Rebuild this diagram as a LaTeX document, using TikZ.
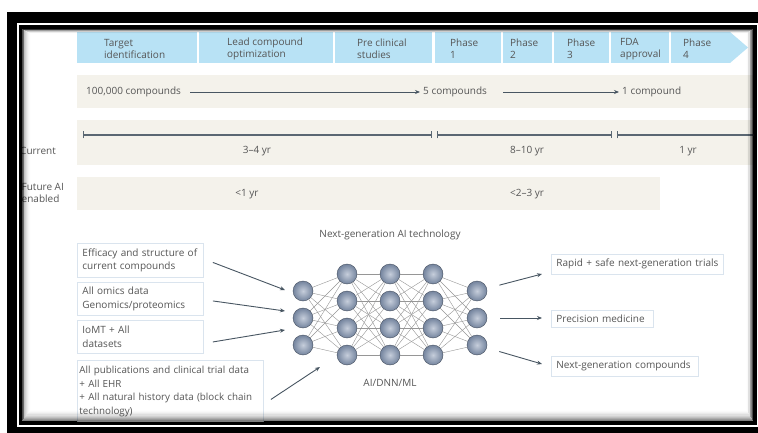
\documentclass[tikz,border=0pt]{standalone}
\usepackage{fontspec}
\setmainfont{Open Sans}
\usetikzlibrary{arrows.meta,calc}
\definecolor{banner}{RGB}{184,226,245}
\definecolor{band}{RGB}{244,242,235}
\definecolor{txt}{RGB}{85,85,85}
\definecolor{ink}{RGB}{72,86,98}
\definecolor{edgec}{RGB}{150,150,150}
\definecolor{boxline}{RGB}{218,228,238}
\definecolor{neuron}{RGB}{128,146,175}
\begin{document}
\begin{tikzpicture}[x=1pt,y=-1pt,
  lbl/.style={font=\fontsize{10}{12}\selectfont, text=txt, inner sep=0pt, align=left},
  clbl/.style={font=\fontsize{10}{12}\selectfont, text=txt, inner sep=0pt, align=center},
  arr/.style={draw=ink, line width=0.9pt, -{Stealth[length=5pt,width=4pt]}},
  tl/.style={draw=ink!90, line width=1.3pt},
  edge/.style={draw=edgec, line width=0.4pt},
  neuron/.style={circle, minimum size=20pt, inner sep=0pt, shading=radial,
     inner color=neuron!45!white, outer color=neuron!90!black, draw=neuron!55!black, line width=0.4pt},
  databox/.style={draw=boxline, line width=0.9pt, fill=white, anchor=north west, inner xsep=5pt, inner ysep=3pt,
     font=\fontsize{10}{13.5}\selectfont, text=txt, align=left},
  outbox/.style={draw=boxline, line width=0.9pt, fill=white, anchor=west, inner xsep=5pt, inner ysep=5pt,
     font=\fontsize{10}{12}\selectfont, text=txt, align=left}]
\useasboundingbox (0,0) rectangle (758,433);

% outer frame: thick black, white gap, thin black ring
\fill[white] (0,0) rectangle (758,433);
\fill[black] (7,12) rectangle (770,445);
\fill[white] (17,23) rectangle (758,427);
\fill[black] (19,25) rectangle (757,425);
\fill[white] (22,29) rectangle (753,421);

\begin{scope}
\clip (22,29) rectangle (753,421);

% ---- stage banner ----
\fill[banner] (77,32) rectangle (197,63);
\fill[banner] (199,32) rectangle (333,63);
\fill[banner] (335,32) rectangle (432,63);
\fill[banner] (435,32) rectangle (501,63);
\fill[banner] (503,32) rectangle (552,63);
\fill[banner] (554,32) rectangle (609,63);
\fill[banner] (611,32) rectangle (669,63);
\fill[banner] (671,32) -- (730,32) -- (748,47.5) -- (730,63) -- (671,63) -- cycle;

\node[lbl, anchor=west] (s1) at (104,49) {Target\\identification};
\node[lbl, anchor=west] (s2) at (227,49) {Lead compound\\optimization};
\node[lbl, anchor=west] (s3) at (357,49) {Pre clinical\\studies};
\node[lbl, anchor=west] (s4) at (450,49) {Phase\\1};
\node[lbl, anchor=west] (s5) at (510,49) {Phase\\2};
\node[lbl, anchor=west] (s6) at (567,49) {Phase\\3};
\node[lbl, anchor=west] (s7) at (620,49) {FDA\\approval};
\node[lbl, anchor=west] (s8) at (683,49) {Phase\\4};

% ---- compound funnel ----
\fill[band] (77,75) rectangle (753,108);
\node[lbl, anchor=west] (c1) at (86,92) {100,000 compounds};
\node[lbl, anchor=west] (c2) at (423,92) {5 compounds};
\node[lbl, anchor=west] (c3) at (622,92) {1 compound};
\draw[arr, line width=0.8pt, shorten <=9pt, shorten >=3pt] (c1.east) -- (c2.west);
\draw[arr, line width=0.8pt, shorten <=16pt, shorten >=3pt] (c2.east) -- (c3.west);

% ---- current timeline ----
\fill[band] (77,120) rectangle (753,165);
\coordinate (t0) at (83,135);
\coordinate (t1a) at (432,135);
\coordinate (t1b) at (437,135);
\coordinate (t2a) at (612,135);
\coordinate (t2b) at (617,135);
\coordinate (t3) at (760,135);
\draw[tl, {Bar[width=7pt]}-{Bar[width=7pt]}] (t0) -- (t1a);
\draw[tl, {Bar[width=7pt]}-{Bar[width=7pt]}] (t1b) -- (t2a);
\draw[tl, {Bar[width=7pt]}-] (t2b) -- (t3);
\node[lbl, anchor=west] (cur) at (20,151) {Current};
\node[clbl] (d1) at (257,151) {3–4 yr};
\node[clbl] (d2) at (527,151) {8–10 yr};
\node[clbl] (d3) at (688,151) {1 yr};

% ---- AI-enabled timeline ----
\fill[band] (77,177) rectangle (660,210);
\node[lbl, anchor=west] (fut) at (21.5,193) {Future AI\\enabled};
\node[clbl] (f1) at (247,194) {<1 yr};
\node[clbl] (f2) at (527,194) {<2–3 yr};

% ---- neural network ----
\node[clbl] (nettitle) at (390,235) {Next-generation AI technology};
\foreach \i/\x in {1/303,5/477}{
  \foreach \j/\y in {1/291,2/318,3/345}
    \node[neuron] (n\i\j) at (\x,\y) {};
}
\foreach \i/\x in {2/347,3/390,4/433}{
  \foreach \j/\y in {1/274,2/301,3/328,4/355}
    \node[neuron] (n\i\j) at (\x,\y) {};
}
\foreach \a in {1,2,3}{\foreach \b in {1,2,3,4}{
  \draw[edge] (n1\a) -- (n2\b);
  \draw[edge] (n4\b) -- (n5\a);
}}
\foreach \a in {1,2,3,4}{\foreach \b in {1,2,3,4}{
  \draw[edge] (n2\a) -- (n3\b);
  \draw[edge] (n3\a) -- (n4\b);
}}
\node[clbl] (netlabel) at (390,383) {AI/DNN/ML};

% ---- data sources ----
\node[databox, text width=116pt, minimum height=34pt] (b1) at (77,243) {Efficacy and structure of\\current compounds};
\node[databox, text width=116pt, minimum height=33pt] (b2) at (77,282) {All omics data\\Genomics/proteomics};
\node[databox, text width=116pt, minimum height=33pt] (b3) at (77,320) {IoMT + All\\datasets};
\node[databox, text width=182pt, inner xsep=2pt, minimum height=62pt, inner ysep=4pt,
      font=\fontsize{9.8}{13.8}\selectfont] (b4) at (77,360)
  {All publications and clinical trial data\\+ All EHR\\+ All natural history data (block chain\\technology)};

\coordinate (in1) at (285,290);
\coordinate (in2) at (285,311);
\coordinate (in3) at (285,330);
\coordinate (in4) at (320,367);
\draw[arr] ([shift={(9,2)}]b1.east) -- (in1);
\draw[arr] ([shift={(9,2)}]b2.east) -- (in2);
\draw[arr] ([shift={(9,5)}]b3.east) -- (in3);
\draw[arr] ([shift={(7,8)}]b4.east) -- (in4);

% ---- outcomes ----
\node[outbox, text width=162pt] (o1) at (551,264) {Rapid + safe next-generation trials};
\node[outbox, text width=92pt] (o2) at (551,319) {Precision medicine};
\node[outbox, text width=137pt] (o3) at (551,366) {Next-generation compounds};
\coordinate (out1) at (542,274);
\coordinate (out2) at (542,318);
\coordinate (out3) at (542,364);
\draw[arr, shorten <=13pt] (n51) -- (out1);
\draw[arr, shorten <=13pt] (n52) -- (out2);
\draw[arr, shorten <=13pt] (n53) -- (out3);

% inner shadow along the frame
\foreach \k in {0,...,9}{
  \pgfmathsetmacro{\op}{0.5*(1-\k/10)^2}
  \draw[black, opacity=\op, line width=1.2pt]
    (22+0.9*\k,29+0.45*\k) rectangle (753-0.7*\k,421-1.2*\k);
}
\end{scope}
\end{tikzpicture}
\end{document}
